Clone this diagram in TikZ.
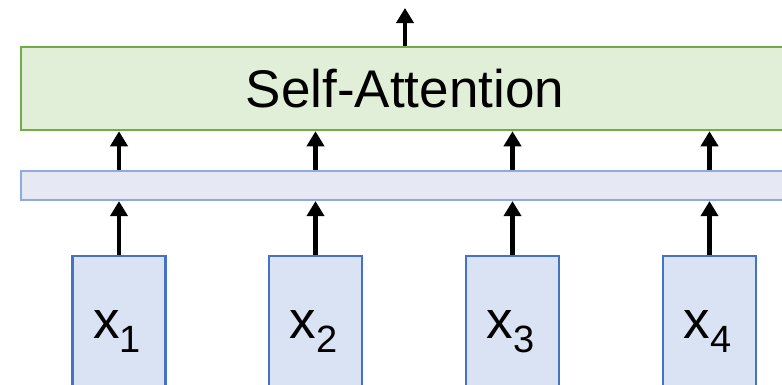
\documentclass[tikz,border=0pt]{standalone}
\usepackage{fontspec}
\setmainfont{Liberation Sans}
\usetikzlibrary{arrows.meta}
\definecolor{gfill}{RGB}{225,238,216}
\definecolor{gline}{RGB}{112,173,71}
\definecolor{bfill}{RGB}{230,233,243}
\definecolor{bline}{RGB}{143,170,220}
\definecolor{xfill}{RGB}{218,227,243}
\definecolor{xline}{RGB}{68,114,196}
\tikzset{
  attnbox/.style={draw=gline, fill=gfill, line width=2.5pt, minimum width=768pt, minimum height=83pt, inner sep=0pt},
  barbox/.style={draw=bline, fill=bfill, line width=2.2pt, minimum width=768pt, minimum height=29pt, inner sep=0pt},
  inbox/.style={draw=xline, fill=xfill, line width=2.8pt, minimum width=93pt, minimum height=140pt, inner sep=0pt},
  arr/.style={line width=4.5pt, -{Triangle[width=17pt,length=15pt]}},
  lbl/.style={anchor=base, inner sep=0pt, font=\fontsize{53}{60}\selectfont}
}
\newcommand{\xsub}[1]{x\raisebox{-14pt}{\fontsize{38}{40}\selectfont #1}}
\begin{document}
\begin{tikzpicture}[x=1pt,y=-1pt]
\clip (0,0) rectangle (782,384);
\node[attnbox] (attn) at (405,88.5) {};
\node[lbl] (attnlbl) at (405,107) {Self-Attention};
\node[barbox] (bar) at (405,185.5) {};
\node[inbox] (b1) at (119,326) {};
\node[inbox] (b2) at (315.5,326) {};
\node[inbox] (b3) at (512.5,326) {};
\node[inbox] (b4) at (709.5,326) {};
\node[lbl] (l1) at (117,338) {\xsub{1}};
\node[lbl] (l2) at (313.5,338) {\xsub{2}};
\node[lbl] (l3) at (510.5,338) {\xsub{3}};
\node[lbl] (l4) at (707.5,338) {\xsub{4}};
\coordinate (out) at (405,8);
\draw[arr] (attn.north) -- (out);
\foreach \i in {1,2,3,4} {
  \draw[arr] (b\i.north) -- (b\i.north |- bar.south);
  \draw[arr] (b\i.north |- bar.north) -- (b\i.north |- attn.south);
}
\end{tikzpicture}
\end{document}
